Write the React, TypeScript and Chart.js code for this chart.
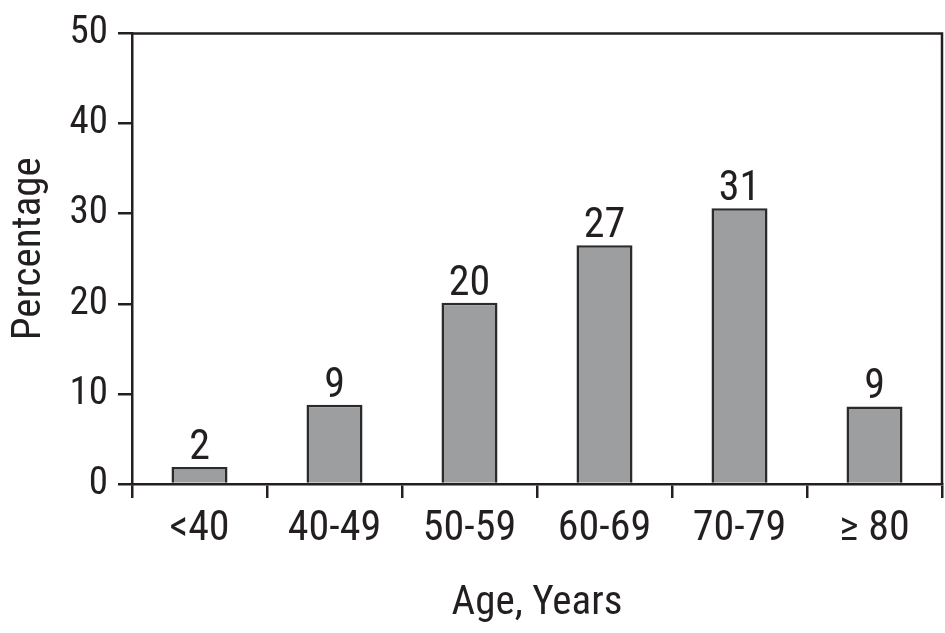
import React, { useEffect, useRef } from "react";
import { Chart, registerables } from "chart.js";

Chart.register(...registerables);

const categories = ["<40", "40-49", "50-59", "60-69", "70-79", "≥ 80"];
const values = [1.9, 8.8, 20.1, 26.5, 30.6, 8.6];
const valueLabels = ["2", "9", "20", "27", "31", "9"];
const yTicks = [0, 10, 20, 30, 40, 50];
const yTitle = "Percentage";
const xTitle = "Age, Years";

const FONT = "'Liberation Sans Narrow', 'Roboto Condensed', 'Liberation Sans', sans-serif";
const INK = "#231f20";

const framePlugin = {
  id: "frameAndLabels",
  afterDatasetsDraw(chart: any) {
    const { ctx, chartArea } = chart;
    ctx.save();
    ctx.strokeStyle = INK;
    ctx.lineWidth = 2.5;
    ctx.beginPath();
    ctx.moveTo(chartArea.left, chartArea.top);
    ctx.lineTo(chartArea.right, chartArea.top);
    ctx.lineTo(chartArea.right, chartArea.bottom);
    ctx.stroke();

    const meta = chart.getDatasetMeta(0);
    ctx.fillStyle = INK;
    ctx.font = `42px ${FONT}`;
    ctx.textAlign = "center";
    ctx.textBaseline = "alphabetic";
    meta.data.forEach((bar: any, i: number) => {
      ctx.fillText(valueLabels[i], bar.x, bar.y - 8);
    });

    // y-axis title, placed slightly above the plot's vertical centre as in the reference
    ctx.font = `41px ${FONT}`;
    ctx.textBaseline = "middle";
    ctx.translate(30, (chartArea.top + chartArea.bottom) / 2 - 10);
    ctx.rotate(-Math.PI / 2);
    ctx.fillText(yTitle, 0, 0);
    ctx.restore();
  },
};

export default function App() {
  const ref = useRef<HTMLCanvasElement | null>(null);

  useEffect(() => {
    if (!ref.current) return;
    const chart = new Chart(ref.current, {
      type: "bar",
      data: {
        labels: categories,
        datasets: [
          {
            data: values,
            backgroundColor: "#9c9ea0",
            borderColor: "#2a2a2a",
            borderWidth: 2.5,
            categoryPercentage: 1,
            barPercentage: 0.415,
          },
        ],
      },
      options: {
        animation: false,
        responsive: false,
        devicePixelRatio: 1,
        layout: { padding: { left: 0, right: 3, top: 33, bottom: 0 } },
        plugins: { legend: { display: false }, tooltip: { enabled: false } },
        scales: {
          x: {
            z: 1,
            grid: {
              offset: true,
              drawOnChartArea: false,
              tickLength: 14,
              color: INK,
              lineWidth: 2.5,
            },
            border: { display: true, color: INK, width: 2.5 },
            ticks: { font: { family: FONT, size: 42 }, color: INK, padding: 6 },
            title: {
              display: true,
              text: xTitle,
              font: { family: FONT, size: 41 },
              color: INK,
              padding: { top: 0, bottom: 5 },
            },
            afterFit: (scale: any) => {
              scale.height = 149;
            },
          },
          y: {
            z: 1,
            min: 0,
            max: 50,
            afterBuildTicks: (scale: any) => {
              scale.ticks = yTicks.map((v) => ({ value: v }));
            },
            grid: {
              drawOnChartArea: false,
              tickLength: 14,
              color: INK,
              lineWidth: 2.5,
            },
            border: { display: true, color: INK, width: 2.5 },
            ticks: { font: { family: FONT, size: 39 }, color: INK, padding: 10 },
            title: { display: false },
            afterFit: (scale: any) => {
              scale.width = 132;
            },
          },
        },
      },
      plugins: [framePlugin],
    });
    return () => chart.destroy();
  }, []);

  return (
    <div style={{ position: "fixed", left: 0, top: 0, width: 945, height: 633, background: "#fff" }}>
      <canvas ref={ref} width={945} height={633} />
    </div>
  );
}
